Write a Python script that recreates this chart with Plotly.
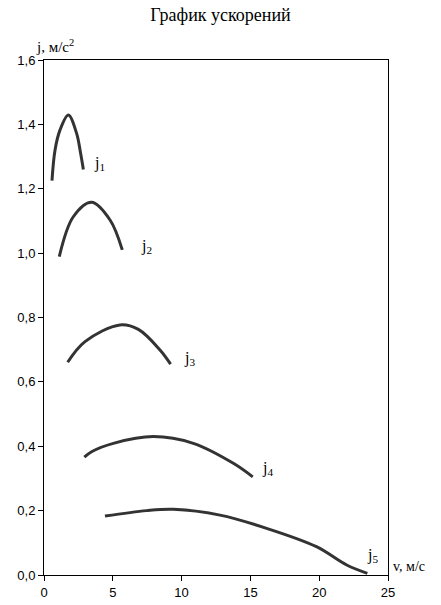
import plotly.graph_objects as go

# Data (v in m/s, j in m/s^2)
v1 = [0.58, 0.8, 1.16, 1.77, 2.37, 2.66, 2.86]
j1 = [1.225, 1.32, 1.382, 1.429, 1.372, 1.31, 1.26]

v2 = [1.11, 2.13, 3.46, 4.8, 5.69]
j2 = [0.989, 1.113, 1.158, 1.103, 1.01]

v3 = [1.72, 2.98, 5.52, 6.86, 8.43, 9.2]
j3 = [0.661, 0.725, 0.777, 0.763, 0.699, 0.655]

v4 = [2.93, 3.46, 5.04, 7.95, 10.85, 13.76, 15.17]
j4 = [0.366, 0.383, 0.409, 0.43, 0.409, 0.347, 0.305]

v5 = [4.43, 7.46, 9.4, 12.79, 16.18, 19.8, 22.0, 23.5]
j5 = [0.183, 0.2, 0.204, 0.186, 0.145, 0.088, 0.031, 0.005]

series = [(v1, j1), (v2, j2), (v3, j3), (v4, j4), (v5, j5)]
label_names = ["1", "2", "3", "4", "5"]
label_x = [3.5, 6.9, 10.0, 15.7, 23.3]
label_y = [1.28, 1.02, 0.674, 0.33, 0.06]

x_ticks = [0, 5, 10, 15, 20, 25]
y_ticks = [0.0, 0.2, 0.4, 0.6, 0.8, 1.0, 1.2, 1.4, 1.6]

fig = go.Figure()
for vx, jy in series:
    fig.add_trace(go.Scatter(x=vx, y=jy, mode="lines",
                             line=dict(color="#333333", width=3, shape="spline"),
                             showlegend=False, hoverinfo="skip"))

serif = "Liberation Serif, Times New Roman, serif"
for n, lx, ly in zip(label_names, label_x, label_y):
    fig.add_annotation(x=lx, y=ly, xref="x", yref="y", text=f"j<sub>{n}</sub>",
                       showarrow=False, font=dict(family=serif, size=16, color="black"),
                       xanchor="left", yanchor="middle")

fig.add_annotation(x=0, y=1.0, xref="paper", yref="paper", text="j, м/с<sup>2</sup>",
                   showarrow=False, font=dict(family=serif, size=15, color="black"),
                   xanchor="left", yanchor="bottom", xshift=-10, yshift=3)
fig.add_annotation(x=1.0, y=0.0, xref="paper", yref="paper", text="v, м/с",
                   showarrow=False, font=dict(family=serif, size=14, color="black"),
                   xanchor="left", yanchor="bottom", xshift=3, yshift=-1)

fig.update_layout(
    width=441, height=605,
    margin=dict(l=44, r=53, t=60, b=30, autoexpand=False),
    paper_bgcolor="white", plot_bgcolor="white",
    separators=", ",
    title=dict(text="График ускорений", x=0.5, xanchor="center", y=0.975, yanchor="middle",
               font=dict(family=serif, size=18, color="black")),
    xaxis=dict(range=[0, 25], tickvals=x_ticks, tickformat="d", automargin=False,
               showgrid=False, zeroline=False, showline=True, linecolor="black", linewidth=1,
               mirror=True, ticks="outside", ticklen=5, tickcolor="black",
               tickfont=dict(family="Liberation Sans, Arial, sans-serif", size=13, color="black")),
    yaxis=dict(range=[0, 1.6], tickvals=y_ticks, tickformat=".1f", automargin=False,
               showgrid=False, zeroline=False, showline=True, linecolor="black", linewidth=1,
               mirror=True, ticks="outside", ticklen=5, tickcolor="black",
               tickfont=dict(family="Liberation Sans, Arial, sans-serif", size=13, color="black")),
)

fig.write_html("out.html", config={"displayModeBar": False},
               post_script="document.body.style.margin='0';document.body.style.padding='0';")
